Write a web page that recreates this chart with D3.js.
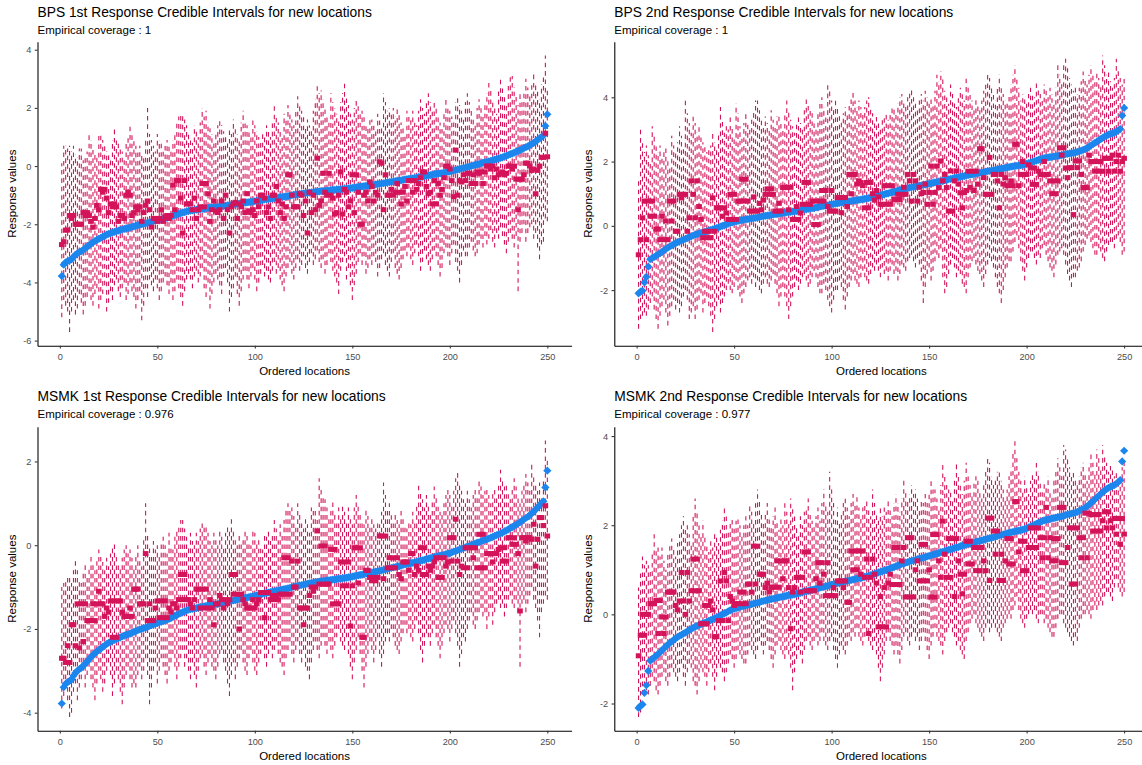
<!DOCTYPE html>
<html><head><meta charset="utf-8">
<script src="https://cdn.jsdelivr.net/npm/d3@7"></script>
<style>
body{margin:0;background:#fff;}
svg{display:block;font-family:"Liberation Sans",Arial,sans-serif;}
</style></head><body>
<svg id="chart" width="1142" height="765"></svg>
<script>
// ---------- data ----------
const panelTitles = [
  "BPS 1st Response Credible Intervals for new locations",
  "BPS 2nd Response Credible Intervals for new locations",
  "MSMK 1st Response Credible Intervals for new locations",
  "MSMK 2nd Response Credible Intervals for new locations"
];
const coverageLabels = ["Empirical coverage : 1","Empirical coverage : 1","Empirical coverage : 0.976","Empirical coverage : 0.977"];
const xTickValues = [0,50,100,150,200,250];
const yTicks1 = [-6,-4,-2,0,2,4];
const yTicks2 = [-2,0,2,4];
const yTicks3 = [-4,-2,0,2];
const yTicks4 = [-2,0,2,4];

// true values (sorted), 1st response
const truth1 = [-3.78,-3.39,-3.31,-3.27,-3.24,-3.21,-3.12,-3.05,-3.0,-2.96,
-2.93,-2.88,-2.83,-2.78,-2.72,-2.67,-2.62,-2.58,-2.54,-2.5,
-2.47,-2.43,-2.4,-2.36,-2.33,-2.31,-2.28,-2.26,-2.24,-2.22,
-2.2,-2.18,-2.16,-2.14,-2.13,-2.11,-2.09,-2.07,-2.05,-2.03,
-2.01,-2.0,-1.98,-1.97,-1.95,-1.93,-1.91,-1.89,-1.88,-1.86,
-1.84,-1.83,-1.81,-1.8,-1.78,-1.76,-1.74,-1.71,-1.69,-1.67,
-1.64,-1.62,-1.6,-1.58,-1.56,-1.54,-1.53,-1.52,-1.51,-1.5,
-1.49,-1.48,-1.47,-1.46,-1.45,-1.44,-1.43,-1.42,-1.42,-1.41,
-1.4,-1.39,-1.38,-1.37,-1.36,-1.35,-1.34,-1.33,-1.32,-1.31,
-1.3,-1.29,-1.28,-1.27,-1.26,-1.25,-1.24,-1.23,-1.22,-1.21,
-1.2,-1.19,-1.18,-1.16,-1.15,-1.14,-1.13,-1.12,-1.11,-1.1,
-1.09,-1.08,-1.07,-1.06,-1.05,-1.04,-1.03,-1.02,-1.0,-0.99,
-0.98,-0.97,-0.96,-0.95,-0.94,-0.93,-0.92,-0.91,-0.9,-0.9,
-0.89,-0.88,-0.87,-0.86,-0.86,-0.85,-0.84,-0.84,-0.83,-0.82,
-0.82,-0.81,-0.8,-0.8,-0.79,-0.78,-0.78,-0.77,-0.76,-0.75,
-0.74,-0.73,-0.72,-0.71,-0.7,-0.69,-0.68,-0.67,-0.66,-0.65,
-0.64,-0.63,-0.62,-0.61,-0.6,-0.59,-0.58,-0.56,-0.55,-0.54,
-0.53,-0.52,-0.51,-0.5,-0.49,-0.47,-0.46,-0.45,-0.44,-0.43,
-0.42,-0.41,-0.4,-0.38,-0.37,-0.36,-0.35,-0.33,-0.32,-0.31,
-0.3,-0.28,-0.27,-0.26,-0.25,-0.24,-0.23,-0.21,-0.2,-0.19,
-0.17,-0.15,-0.14,-0.12,-0.1,-0.08,-0.07,-0.05,-0.03,-0.02,
0.0,0.02,0.04,0.06,0.07,0.09,0.11,0.13,0.14,0.16,
0.18,0.2,0.22,0.24,0.26,0.28,0.3,0.33,0.35,0.38,
0.41,0.43,0.46,0.49,0.52,0.55,0.58,0.62,0.65,0.68,
0.72,0.76,0.8,0.85,0.9,0.95,1.0,1.05,1.38,1.78];

// true values (sorted), 2nd response
const truth2 = [-2.1,-2.05,-2.02,-1.76,-1.59,-1.27,-1.04,-1.0,-0.97,-0.93,
-0.89,-0.85,-0.81,-0.76,-0.72,-0.68,-0.64,-0.61,-0.57,-0.54,
-0.51,-0.48,-0.46,-0.43,-0.41,-0.38,-0.35,-0.33,-0.3,-0.28,
-0.26,-0.24,-0.22,-0.2,-0.19,-0.17,-0.15,-0.13,-0.11,-0.09,
-0.07,-0.05,-0.02,0.0,0.02,0.04,0.07,0.09,0.11,0.13,
0.14,0.15,0.17,0.18,0.19,0.2,0.21,0.22,0.23,0.24,
0.25,0.26,0.27,0.29,0.3,0.31,0.32,0.33,0.34,0.35,
0.36,0.37,0.38,0.39,0.4,0.41,0.42,0.43,0.43,0.44,
0.45,0.46,0.47,0.48,0.5,0.51,0.52,0.53,0.54,0.55,
0.56,0.57,0.58,0.6,0.61,0.62,0.63,0.64,0.66,0.67,
0.68,0.69,0.7,0.71,0.72,0.73,0.74,0.75,0.76,0.77,
0.78,0.79,0.8,0.81,0.82,0.83,0.84,0.85,0.86,0.88,
0.89,0.91,0.92,0.94,0.95,0.97,0.98,1.0,1.01,1.03,
1.05,1.06,1.08,1.1,1.11,1.13,1.14,1.16,1.17,1.19,
1.2,1.21,1.22,1.24,1.25,1.26,1.27,1.28,1.3,1.31,
1.32,1.34,1.35,1.36,1.38,1.39,1.4,1.42,1.43,1.45,
1.46,1.47,1.49,1.5,1.51,1.53,1.54,1.55,1.57,1.58,
1.59,1.6,1.61,1.63,1.64,1.65,1.66,1.67,1.69,1.7,
1.71,1.72,1.73,1.74,1.76,1.77,1.78,1.79,1.8,1.82,
1.83,1.84,1.85,1.86,1.87,1.88,1.89,1.9,1.91,1.93,
1.95,1.97,1.99,2.01,2.03,2.05,2.07,2.09,2.11,2.12,
2.13,2.14,2.15,2.16,2.17,2.18,2.19,2.2,2.21,2.23,
2.24,2.25,2.26,2.27,2.28,2.3,2.32,2.34,2.36,2.39,
2.42,2.46,2.5,2.54,2.58,2.62,2.66,2.7,2.74,2.78,
2.81,2.84,2.86,2.88,2.9,2.93,2.97,3.01,3.43,3.67];

// BPS 1st response
const bps1Lower = [-5.2,-4.6,-4.8,-5.0,-5.7,-5.0,-4.6,-5.1,-4.9,-4.4,
-4.7,-5.1,-4.8,-4.5,-4.3,-4.6,-4.8,-4.4,-4.2,-4.9,
-4.6,-4.4,-4.1,-5.0,-4.7,-4.3,-4.6,-4.1,-3.9,-4.3,
-4.5,-4.2,-4.0,-4.6,-4.4,-4.0,-4.3,-4.5,-4.9,-4.6,
-4.3,-5.3,-4.8,-4.2,-4.5,-3.9,-4.1,-4.3,-3.9,-4.2,
-4.6,-4.3,-4.0,-3.8,-4.1,-4.4,-4.0,-4.6,-4.3,-3.9,
-4.2,-4.5,-4.8,-4.3,-3.9,-3.7,-3.9,-4.2,-3.8,-3.6,
-4.0,-3.8,-3.5,-4.2,-4.5,-4.0,-4.9,-4.4,-4.0,-3.7,
-3.9,-4.1,-4.4,-3.8,-3.5,-4.0,-5.0,-4.5,-4.2,-3.8,
-4.4,-4.8,-4.3,-3.9,-3.6,-3.9,-4.2,-3.8,-3.5,-3.9,
-4.3,-4.0,-3.7,-3.4,-3.8,-3.6,-3.9,-4.0,-3.6,-3.3,
-3.7,-3.5,-3.9,-4.1,-4.3,-3.8,-3.5,-3.3,-3.7,-3.9,
-3.5,-3.2,-3.6,-3.4,-3.1,-3.5,-3.7,-3.3,-3.0,-3.4,
-3.2,-2.9,-3.3,-3.5,-3.2,-3.7,-3.4,-3.0,-3.3,-3.6,
-3.8,-4.0,-4.4,-3.6,-3.3,-3.1,-3.9,-3.5,-4.1,-4.6,
-4.1,-3.7,-3.3,-3.0,-3.4,-3.1,-3.7,-3.5,-3.2,-3.4,
-3.1,-3.3,-3.8,-3.5,-3.2,-3.0,-3.4,-3.6,-3.8,-3.3,
-3.0,-3.5,-3.7,-3.9,-3.5,-3.2,-2.9,-3.1,-2.8,-3.2,
-3.4,-3.0,-2.7,-3.1,-3.6,-3.3,-2.9,-3.2,-3.4,-3.6,
-3.2,-2.9,-3.1,-3.4,-3.8,-3.5,-3.0,-2.8,-3.1,-3.4,
-3.0,-2.7,-3.3,-3.6,-4.0,-3.4,-2.9,-3.1,-3.1,-2.8,
-2.6,-2.9,-3.1,-3.0,-2.7,-2.5,-2.8,-2.4,-2.7,-2.5,
-2.2,-2.6,-2.8,-2.3,-2.5,-2.1,-2.4,-2.7,-3.0,-2.6,
-2.3,-2.5,-2.8,-2.4,-4.3,-2.6,-2.3,-2.0,-2.6,-2.3,
-2.1,-2.0,-2.5,-2.3,-2.8,-3.2,-2.7,-2.6,-1.8,-1.9];
const bps1Upper = [0.1,0.7,0.7,0.6,0.7,0.5,0.7,0.4,0.3,0.6,
0.6,0.2,0.4,0.5,1.1,0.9,0.7,0.5,0.3,1.1,
1.1,0.9,0.7,0.5,0.4,0.3,0.9,1.3,1.0,0.8,
0.6,0.5,0.3,0.8,1.0,1.4,1.1,0.9,0.7,0.5,
0.7,0.4,0.3,1.0,2.0,1.1,0.9,0.7,0.5,1.1,
0.9,0.8,0.6,0.8,0.9,0.7,0.5,0.9,1.1,1.5,
1.7,1.8,1.8,1.6,1.4,1.2,1.0,0.8,1.4,1.2,
1.0,1.5,2.0,1.7,1.9,1.5,1.3,1.1,0.8,1.2,
1.4,1.6,1.4,1.2,1.0,0.8,1.3,1.1,1.6,1.3,
1.1,0.9,1.5,1.9,1.6,1.4,1.2,1.0,1.6,1.4,
1.2,1.0,0.8,1.2,1.0,1.4,1.2,1.0,1.5,2.1,
1.7,1.5,1.3,1.1,1.8,1.6,2.1,1.8,1.6,1.4,
1.9,2.4,2.1,1.9,1.7,1.4,1.6,1.4,1.2,1.9,
2.3,2.8,2.5,2.6,2.3,2.0,1.8,1.6,2.5,2.2,
2.0,1.8,1.6,2.2,2.5,2.9,2.4,2.1,1.8,1.6,
2.0,2.3,2.1,1.8,1.9,1.7,1.5,1.3,1.7,1.6,
1.4,1.2,1.8,1.6,1.4,2.5,2.2,1.9,2.0,1.8,
2.0,1.7,2.0,1.8,1.5,1.3,1.1,1.9,1.8,1.6,
1.9,1.6,1.4,1.9,2.3,2.0,1.8,2.2,2.5,2.2,
1.9,2.2,2.0,1.7,1.5,1.3,1.8,2.3,2.1,1.9,
1.7,1.5,2.2,2.4,2.1,1.9,1.7,2.2,2.5,2.2,
1.9,1.7,1.5,2.0,2.3,2.0,1.8,2.2,2.5,2.9,
2.6,2.3,2.0,1.8,2.6,3.0,2.7,2.4,2.1,2.8,
3.1,3.1,2.7,2.4,2.1,2.5,2.3,2.6,3.0,2.7,
2.4,2.9,3.2,2.8,2.6,2.3,2.8,3.1,3.8,2.7];
const bps1Mean = [-2.7,-2.6,-2.2,-2.2,-1.7,-1.8,-1.7,-2.0,-2.0,-2.0,
-2.0,-1.6,-1.7,-1.6,-1.7,-1.9,-2.1,-1.8,-1.35,-1.5,
-0.8,-0.9,-0.8,-1.1,-1.6,-1.3,-1.4,-1.3,-1.4,-1.9,
-1.7,-1.7,-1.8,-1.0,-0.9,-1.0,-1.7,-1.6,-1.4,-1.5,
-1.4,-1.9,-1.6,-1.35,-1.2,-1.5,-2.1,-1.8,-1.8,-1.9,
-1.8,-1.5,-1.9,-1.75,-1.7,-1.8,-1.7,-0.65,-1.5,-0.5,
-0.5,-1.1,-2.3,-0.5,-1.3,-1.3,-1.3,-1.5,-1.1,-1.8,
-1.5,-1.4,-0.6,-1.4,-0.6,-0.95,-1.9,-1.5,-1.2,-1.55,
-1.6,-1.5,-1.2,-1.8,-1.0,-1.5,-2.3,-1.4,-1.3,-1.25,
-1.8,-1.3,-1.4,-1.2,-1.6,-0.95,-1.55,-1.6,-1.5,-1.7,
-1.2,-1.4,-1.0,-1.0,-1.1,-1.6,-1.4,-1.8,-1.0,-1.0,
-0.7,-1.2,-1.6,-1.3,-1.8,-1.4,-0.3,-0.3,-1.0,-1.4,
-1.4,-1.4,-0.95,-1.0,-1.7,-1.2,-2.3,-0.9,-1.6,-1.0,
-1.5,0.27,-1.35,-1.2,-0.25,-0.9,-1.0,-0.25,-1.0,-1.1,
-1.65,-1.6,-1.0,-0.2,-1.65,-0.8,-0.9,-1.4,-1.2,-0.3,
-1.6,-0.3,-0.9,-2.0,-2.0,-1.0,-0.9,-1.2,-0.55,-0.7,
-1.2,-0.9,-1.0,0.15,0.1,-1.5,-0.3,-1.0,-1.0,-0.8,
-1.0,-0.9,-0.6,-0.9,-1.3,-0.9,-0.7,-1.2,-0.5,-0.5,
-0.9,-0.5,-0.8,-0.6,-0.4,-0.2,-0.2,-0.7,-0.95,-0.9,
-1.3,-0.5,-1.3,-0.6,-1.0,-0.8,-0.4,0.0,0.0,-0.1,
-0.5,-1.05,0.55,-1.0,-0.5,-0.55,-0.3,-0.5,-0.25,-0.25,
-0.6,-0.3,-0.6,-0.2,-0.25,-0.2,-0.6,-0.2,0.0,0.0,
-0.1,0.0,-0.4,-0.1,-0.3,-0.25,-0.2,-0.3,-0.25,0.0,
0.0,-0.1,0.0,-0.45,-1.5,-0.45,-0.45,-0.3,0.1,0.1,
0.0,-0.15,-0.1,-0.95,-0.15,0.0,0.3,0.3,1.13,0.32];

// BPS 2nd response
const bps2Lower = [-3.2,-2.9,-2.8,-2.7,-2.8,-2.6,-2.4,-2.2,-2.6,-2.9,
-3.2,-2.8,-2.5,-2.3,-2.7,-3.1,-2.8,-2.5,-2.3,-2.6,
-2.4,-2.7,-2.5,-2.2,-2.0,-2.3,-2.9,-2.7,-2.5,-2.9,
-2.6,-2.3,-2.1,-2.7,-2.4,-2.2,-2.5,-2.8,-3.3,-2.9,
-2.5,-2.3,-2.7,-2.4,-2.2,-2.0,-1.8,-2.0,-2.1,-1.9,
-1.7,-2.0,-2.2,-2.4,-2.1,-1.9,-1.7,-1.6,-1.8,-1.6,
-1.9,-1.7,-2.0,-2.1,-1.8,-1.6,-1.8,-1.9,-1.7,-1.5,
-1.8,-2.1,-2.5,-2.2,-1.9,-2.2,-2.5,-2.9,-2.5,-2.2,
-1.9,-1.7,-2.0,-1.8,-1.6,-1.5,-1.7,-1.9,-1.8,-1.6,
-1.4,-1.6,-1.9,-2.1,-2.1,-1.8,-2.0,-2.3,-2.5,-2.7,
-2.3,-2.0,-2.0,-1.7,-1.9,-2.3,-2.6,-2.2,-1.9,-1.7,
-1.5,-1.7,-1.8,-1.9,-1.6,-1.4,-1.6,-1.7,-1.8,-1.5,
-1.3,-1.4,-1.2,-1.4,-1.6,-1.3,-1.5,-1.4,-1.7,-1.4,
-1.2,-1.5,-1.4,-1.7,-1.5,-1.2,-1.3,-1.4,-1.1,-1.0,
-0.9,-1.1,-1.3,-1.0,-1.2,-1.7,-2.4,-1.9,-1.5,-1.3,
-1.7,-1.4,-1.1,-0.9,-1.0,-0.7,-1.6,-2.1,-1.9,-1.5,
-1.2,-1.0,-1.3,-1.6,-1.4,-1.5,-1.8,-1.9,-2.1,-1.6,
-1.3,-1.1,-1.0,-1.2,-1.4,-1.5,-1.7,-1.9,-1.5,-1.2,
-1.0,-1.1,-1.3,-1.6,-1.9,-2.1,-2.4,-2.0,-1.6,-1.3,
-1.1,-1.1,-0.8,-0.5,-0.3,-0.7,-1.1,-1.4,-1.7,-1.3,
-1.0,-0.8,-0.8,-1.0,-1.2,-0.9,-1.0,-0.7,-0.6,-0.9,
-1.1,-1.3,-1.4,-1.6,-1.2,-0.9,-0.8,-0.7,-0.9,-1.2,
-1.5,-1.7,-1.9,-1.6,-1.6,-1.4,-1.3,-1.1,-0.8,-0.6,
-0.4,-0.3,-0.5,-0.7,-0.9,-0.9,-0.7,-0.8,-1.0,-1.1,
-0.8,-0.6,-0.5,-0.5,-0.7,-0.4,-0.3,-0.5,-0.9,-0.8];
const bps2Upper = [1.4,3.0,2.6,2.3,2.5,2.2,2.0,3.1,2.8,2.5,
2.3,2.5,2.2,2.4,2.5,2.1,1.9,2.8,2.5,2.3,
2.6,3.1,2.8,2.5,3.9,3.5,3.2,2.9,3.5,3.2,
2.9,3.1,2.8,2.6,2.5,2.3,2.4,2.5,2.9,2.6,
2.4,2.9,3.7,3.3,2.9,3.1,3.0,3.4,3.1,2.8,
3.8,3.5,3.1,2.8,3.2,3.5,3.2,3.0,3.3,3.6,
3.9,3.9,3.6,3.3,3.1,3.4,3.2,3.0,3.6,3.3,
3.1,3.4,3.4,3.2,3.0,3.5,3.9,3.6,3.3,3.1,
2.9,3.2,3.4,3.2,3.0,3.6,4.0,3.8,3.6,3.5,
3.3,3.1,3.5,3.8,4.0,3.7,3.4,4.5,4.2,3.9,
3.7,3.9,3.7,3.5,3.3,3.5,3.7,3.5,3.8,4.0,
4.2,3.9,3.7,3.9,3.7,3.5,3.7,3.9,4.0,3.7,
3.5,3.3,3.5,3.3,3.1,3.3,3.4,3.5,3.3,3.5,
3.7,3.7,3.5,3.8,4.0,4.1,3.9,3.7,4.0,4.2,
4.3,4.0,3.8,3.7,3.9,4.1,3.9,4.2,4.0,3.8,
4.0,3.8,4.2,4.7,4.5,4.8,4.6,4.2,4.0,3.8,
4.4,4.1,3.9,3.7,4.0,4.3,4.1,3.9,4.6,4.3,
4.1,3.9,3.7,4.0,3.8,3.6,3.9,4.2,4.5,4.8,
4.6,4.3,4.1,3.9,4.3,4.7,4.4,4.1,3.9,3.8,
4.1,4.4,4.7,5.0,4.6,4.3,3.9,4.1,4.0,3.8,
4.1,4.3,4.1,4.0,4.5,4.3,4.1,3.9,4.4,4.2,
4.0,4.3,4.1,3.9,4.3,5.0,4.7,4.5,5.1,5.2,
4.9,4.6,4.4,4.2,4.4,4.1,4.3,4.5,4.8,4.6,
4.4,4.7,5.0,4.7,4.5,4.8,4.6,4.4,5.3,5.0,
4.7,4.8,4.5,4.3,4.6,5.2,4.9,4.6,4.4,4.6];
const bps2Mean = [-0.9,-0.43,0.25,0.77,-0.43,0.77,0.3,0.77,0.3,-0.1,
-0.1,-0.43,0.3,-0.43,0.15,-0.43,0.77,0.15,0.77,-0.17,
-0.17,0.98,0.87,0.98,0.98,-0.17,0.25,1.4,0.98,0.25,
1.4,0.6,0.2,-0.37,-0.17,-0.37,-0.17,-0.37,0.87,-0.17,
0.56,0.56,0.56,0.3,0.56,0.4,0.2,0.98,0.2,0.98,
0.2,0.77,0.77,1.45,0.77,1.45,0.77,0.46,0.46,0.9,
0.46,0.46,0.7,0.5,0.8,0.98,1.15,0.98,1.15,0.98,
0.46,0.46,0.7,0.46,1.19,1.2,1.19,0.5,1.2,0.2,
0.2,0.6,0.2,0.4,0.67,1.35,0.67,1.35,0.67,0.77,
0.04,0.77,0.04,0.77,1.1,0.77,1.1,0.6,0.46,1.1,
0.46,0.46,0.88,0.88,0.41,0.88,0.88,0.6,1.6,1.0,
1.6,1.6,1.3,1.4,1.35,1.25,0.56,1.35,0.56,1.35,
1.0,0.8,1.1,0.9,0.67,0.67,1.25,0.67,1.25,0.67,
1.25,0.82,0.82,0.98,0.82,0.98,1.2,0.98,1.6,1.4,
0.77,1.6,1.4,0.77,1.2,1.0,1.04,1.3,0.67,1.04,
1.86,0.67,1.04,1.86,1.19,2.02,1.4,1.6,1.19,0.46,
1.71,0.46,1.4,1.71,1.3,1.03,0.56,1.03,1.1,1.7,
1.2,1.7,1.1,1.7,1.3,2.4,2.4,1.5,0.98,0.98,
2.13,0.98,1.6,1.6,1.4,0.56,1.6,1.3,1.5,1.25,
1.25,1.4,1.25,2.54,2.54,1.25,1.6,2.0,1.6,1.6,
1.9,1.8,1.29,1.8,1.29,1.7,1.6,1.6,2.0,1.6,
1.6,1.4,1.0,1.4,1.0,1.4,2.43,2.2,2.43,1.8,
1.5,1.81,1.81,0.35,2.02,1.81,2.02,1.6,1.19,1.19,
1.19,2.2,2.0,2.0,1.7,2.0,1.7,2.0,1.7,2.1,
2.1,1.7,2.1,2.2,1.7,2.0,2.2,1.7,2.0,2.1];

// MSMK 1st response
const msmk1Lower = [-3.9,-3.6,-3.4,-3.7,-4.1,-4.0,-3.5,-3.3,-3.7,-3.4,
-3.2,-3.0,-3.4,-3.1,-2.9,-3.2,-3.4,-3.7,-3.3,-3.0,
-3.2,-3.5,-3.3,-3.0,-2.8,-3.1,-3.6,-3.3,-3.0,-3.2,
-3.5,-3.8,-3.4,-3.1,-2.9,-3.2,-3.4,-3.3,-3.4,-3.1,
-2.9,-3.2,-3.0,-2.7,-3.1,-3.8,-3.4,-3.0,-2.8,-3.3,
-3.0,-2.7,-2.9,-3.1,-3.3,-3.0,-2.8,-2.6,-2.9,-3.2,
-2.9,-2.7,-2.5,-2.9,-2.7,-3.0,-3.2,-2.8,-3.1,-3.4,
-3.0,-2.7,-2.6,-2.9,-3.1,-2.8,-2.6,-2.9,-3.0,-3.2,
-2.9,-2.6,-2.5,-2.8,-3.0,-3.3,-3.6,-3.1,-2.8,-3.2,
-2.9,-2.7,-2.5,-2.8,-3.0,-3.1,-2.7,-2.5,-2.8,-3.0,
-3.1,-2.8,-2.6,-2.4,-2.7,-2.9,-2.6,-2.4,-2.7,-2.5,
-2.3,-2.6,-2.8,-2.9,-3.1,-2.7,-2.5,-2.3,-2.6,-2.8,
-2.5,-2.3,-2.6,-2.8,-2.5,-2.9,-3.0,-3.2,-2.8,-2.5,
-2.3,-2.5,-2.7,-2.4,-2.2,-2.4,-2.6,-2.3,-2.5,-2.7,
-2.4,-2.2,-2.0,-2.3,-2.4,-2.5,-2.2,-2.6,-2.9,-3.2,
-2.8,-2.5,-2.2,-2.6,-3.0,-3.4,-2.9,-2.6,-2.3,-2.5,
-2.8,-2.5,-2.2,-2.6,-2.9,-2.6,-2.3,-2.1,-2.3,-2.0,
-2.2,-2.4,-2.5,-2.6,-2.3,-2.1,-1.9,-2.1,-2.0,-2.2,
-2.3,-2.0,-1.8,-2.1,-2.5,-2.8,-2.4,-2.1,-2.2,-2.4,
-2.1,-1.9,-2.2,-2.4,-2.7,-2.4,-2.1,-1.9,-2.0,-2.3,
-2.0,-1.8,-2.1,-2.4,-2.9,-2.6,-2.2,-2.3,-2.0,-1.8,
-1.6,-1.9,-2.0,-1.8,-1.6,-1.5,-1.7,-1.6,-2.0,-1.7,
-1.5,-1.9,-1.6,-1.4,-1.3,-1.5,-1.4,-1.7,-1.5,-1.3,
-1.2,-1.4,-1.5,-1.3,-1.6,-2.9,-1.4,-1.3,-1.6,-1.4,
-1.2,-1.0,-1.3,-1.5,-1.8,-2.2,-1.6,-1.4,-1.2,-1.3];
const msmk1Upper = [-1.0,-0.9,-0.8,-0.7,-0.7,-0.9,-0.6,-0.3,-0.6,-0.8,
-0.9,-0.6,-0.4,-0.7,-0.5,-0.2,-0.4,-0.6,-0.3,-0.1,
-0.2,-0.4,-0.6,-0.3,-0.5,-0.2,0.0,0.1,-0.2,-0.4,
-0.5,-0.3,-0.1,0.0,-0.2,-0.1,-0.3,-0.5,-0.2,0.0,
-0.3,-0.5,0.2,1.0,0.3,0.0,-0.2,0.1,-0.1,0.0,
-0.2,0.1,0.2,0.0,-0.2,0.3,0.0,-0.1,0.2,0.4,
0.5,0.6,0.6,0.4,0.2,0.0,0.3,0.1,0.0,0.3,
0.1,0.4,0.6,0.5,0.5,0.3,0.1,0.0,0.3,0.2,
0.0,0.4,0.2,0.0,0.3,0.5,0.4,0.7,0.4,0.2,
0.0,0.3,0.1,0.2,0.4,0.3,0.1,0.0,0.4,0.3,
0.1,0.2,0.0,-0.1,0.3,0.2,0.4,0.1,0.3,0.6,
0.4,0.2,0.5,0.3,0.6,0.9,1.0,0.9,0.9,0.7,
0.5,1.0,0.8,0.6,0.4,0.7,0.5,0.3,0.9,0.9,
0.9,0.6,1.6,1.4,1.2,1.1,0.9,0.7,0.9,1.1,
0.8,0.6,0.9,0.7,1.0,0.8,0.6,0.9,0.7,0.5,
0.9,1.2,1.0,0.8,0.6,0.5,0.9,0.7,0.5,0.7,
0.5,0.4,0.6,0.5,0.8,1.5,1.2,0.9,1.0,0.8,
0.6,0.8,0.6,0.5,0.9,0.7,0.5,0.4,0.6,0.5,
0.8,0.6,1.0,1.5,1.3,1.1,0.9,1.2,1.0,0.8,
1.1,1.4,1.2,1.0,0.8,0.8,1.0,1.2,1.4,1.2,
1.0,1.3,1.6,1.8,1.5,1.3,1.1,1.0,1.3,1.1,
0.9,1.2,1.4,1.2,1.6,1.4,1.2,1.3,1.4,1.2,
1.0,1.3,1.4,1.2,1.5,1.8,1.6,1.4,1.5,1.3,
1.1,1.4,1.6,1.4,1.2,1.0,1.3,1.5,1.7,1.5,
1.3,2.0,1.7,1.5,1.3,1.5,1.2,1.6,2.5,2.1];
const msmk1Mean = [-2.7,-2.7,-2.8,-2.4,-2.8,-1.9,-1.9,-2.4,-1.4,-2.45,
-1.4,-2.3,-1.4,-1.8,-1.8,-1.8,-1.4,-1.8,-1.4,-1.1,
-1.4,-1.4,-1.7,-1.5,-1.6,-1.33,-2.2,-1.33,-2.2,-1.33,
-1.33,-1.6,-1.7,-1.7,-1.7,-1.5,-1.7,-1.05,-1.05,-1.05,
-1.4,-1.4,-1.4,-0.2,-1.8,-1.4,-1.8,-1.8,-1.5,-1.33,
-1.73,-1.33,-1.73,-1.33,-1.73,-1.5,-1.6,-1.4,-1.4,-1.5,
-1.3,-0.7,-1.3,-0.7,-1.3,-1.3,-1.4,-1.5,-1.3,-1.05,
-1.05,-1.5,-1.05,-1.5,-1.05,-1.5,-1.3,-1.5,-1.9,-1.4,
-1.4,-1.2,-1.3,-1.5,-1.3,-1.4,-1.3,-0.7,-1.17,-0.7,
-1.17,-2.0,-1.17,-1.3,-1.4,-1.5,-1.5,-1.5,-1.3,-1.5,
-1.4,-1.3,-1.13,-1.13,-1.73,-1.13,-1.13,-1.3,-1.2,-1.3,
-1.2,-1.3,-1.17,-1.17,-0.3,-1.17,-0.3,-1.17,-0.38,-1.0,
-1.0,-0.38,-1.5,-1.5,-1.9,-1.5,-1.5,-1.2,-1.0,-1.1,
-1.0,0.34,-0.93,-0.02,-0.93,-0.02,-0.93,-0.93,-0.1,-1.4,
-0.1,-1.4,-1.4,-0.4,-0.97,-0.4,-0.97,-0.4,-1.93,-0.97,
-0.06,-0.06,-0.9,-0.06,-2.2,-2.2,-0.6,-0.6,-0.77,-0.85,
-0.77,-0.85,-0.77,0.22,0.22,-0.8,0.22,-0.54,-0.3,-0.54,
-0.3,-0.54,-0.3,-0.7,-0.8,-0.4,-0.4,-0.4,-0.6,-0.2,
-0.2,-0.7,-0.5,-0.6,-0.06,-0.7,-0.06,-0.7,-0.5,-0.6,
-0.5,-0.4,-0.3,-0.77,-0.3,-0.77,-0.3,-0.5,-0.4,0.18,
-0.38,0.18,0.62,-0.38,-0.7,-0.5,-0.54,-0.06,-0.54,-0.06,
-0.06,-0.3,-0.06,-0.54,0.26,-0.54,0.26,-0.54,-0.2,-0.2,
-0.2,-0.4,-0.2,-0.2,-0.1,-0.06,-0.38,-0.06,-0.38,0.18,
0.18,0.02,0.18,0.02,-0.2,-1.57,0.18,0.18,0.1,0.18,
0.18,0.14,0.5,-0.5,0.14,0.66,0.66,0.47,0.94,0.22];

// MSMK 2nd response
const msmk2Lower = [-2.3,-2.2,-1.8,-1.8,-1.7,-1.8,-1.6,-1.4,-1.5,-1.7,
-1.8,-1.6,-1.4,-1.3,-1.5,-1.6,-1.4,-1.2,-1.3,-1.4,
-1.5,-1.3,-1.1,-1.4,-1.6,-1.3,-1.1,-1.2,-1.5,-1.6,
-1.8,-1.5,-1.2,-1.3,-1.4,-1.6,-1.3,-1.1,-1.4,-1.7,
-1.4,-1.1,-1.2,-1.3,-1.5,-1.3,-1.1,-0.9,-1.0,-1.2,
-1.0,-0.8,-0.9,-1.0,-1.1,-1.1,-0.9,-0.7,-0.8,-0.9,
-1.0,-0.8,-0.6,-0.7,-0.9,-0.7,-0.6,-0.8,-1.0,-1.2,
-0.9,-0.7,-0.6,-0.8,-0.9,-1.0,-0.8,-0.9,-1.2,-1.7,
-1.3,-1.0,-0.8,-0.9,-1.1,-0.8,-0.6,-0.5,-0.7,-0.8,
-0.6,-0.5,-0.7,-0.6,-0.4,-0.6,-0.7,-0.8,-0.6,-0.5,
-0.8,-1.0,-1.2,-0.9,-0.7,-0.8,-0.9,-0.7,-0.5,-0.6,
-0.4,-0.5,-0.3,-0.5,-0.6,-0.7,-0.5,-0.4,-0.6,-0.7,
-0.8,-0.6,-0.9,-1.2,-1.5,-1.2,-0.9,-0.6,-0.4,-0.6,
-0.7,-0.9,-0.7,-0.9,-1.1,-0.8,-0.5,-0.4,-0.6,-0.7,
-0.5,-0.4,-0.6,-0.5,-0.8,-0.6,-0.4,-0.6,-0.8,-1.0,
-0.7,-0.5,-0.3,-0.5,-0.6,-0.7,-0.9,-0.6,-0.4,-0.3,
-0.2,-0.4,-0.5,-0.7,-0.6,-0.8,-0.9,-1.0,-0.6,-0.4,
-0.2,-0.1,0.0,-0.2,-0.3,-0.4,-0.5,-0.6,-0.3,-0.2,
-0.4,-0.3,-0.2,-0.3,-0.4,-0.5,-0.6,-0.3,-0.2,-0.1,
0.0,-0.1,0.1,0.2,0.4,0.1,-0.1,-0.2,-0.3,-0.1,
0.0,0.1,0.0,0.1,-0.1,-0.2,0.0,0.0,-0.2,-0.1,
-0.3,-0.4,-0.5,-0.5,-0.3,-0.1,0.0,0.0,-0.2,-0.3,
-0.4,-0.5,-0.6,-0.7,-0.5,-0.6,-0.3,-0.1,0.0,0.0,
0.1,0.0,-0.1,0.1,0.2,0.1,0.2,0.3,0.2,0.4,
0.5,0.5,0.4,0.3,0.6,0.8,0.6,0.5,0.4,0.5];
const msmk2Upper = [0.6,1.0,1.3,1.1,1.2,1.1,1.0,1.4,1.8,1.5,
1.5,1.3,1.5,1.2,1.0,1.4,1.6,1.7,1.5,1.3,
1.6,1.8,2.0,2.2,1.9,2.0,1.8,1.6,2.2,2.6,
2.3,2.0,1.8,2.1,1.8,1.6,1.4,1.7,1.5,1.8,
1.8,1.6,1.9,2.1,2.4,2.2,1.9,2.1,2.2,2.0,
2.1,2.2,2.0,1.8,2.0,2.2,2.0,2.5,2.3,2.1,
2.5,2.8,2.6,2.3,2.1,2.3,2.5,2.2,2.0,2.2,
2.4,2.1,1.9,2.2,2.0,2.5,2.3,2.1,2.6,2.4,
2.2,2.0,1.8,2.2,2.0,2.3,2.4,2.6,2.3,2.1,
2.0,2.2,2.4,2.1,2.5,2.8,2.5,2.3,3.2,2.8,
2.5,2.2,2.4,2.1,2.3,2.5,2.6,2.4,2.2,2.5,
2.7,2.5,2.7,2.4,2.2,2.4,2.5,2.6,2.4,2.2,
2.8,2.5,2.3,2.1,2.4,2.2,2.4,2.3,2.6,2.4,
2.2,2.5,2.7,2.5,2.3,2.6,3.0,2.8,2.6,2.7,
2.9,2.7,2.8,2.6,2.4,2.6,2.5,2.7,2.5,2.7,
3.0,2.8,2.8,2.6,2.4,2.9,3.4,3.1,2.9,2.8,
2.8,2.6,3.0,3.4,3.1,2.9,2.7,3.0,3.4,3.1,
2.9,2.7,3.0,3.1,3.0,2.8,2.6,2.9,3.2,3.5,
3.4,3.1,2.9,3.0,3.2,3.2,3.0,2.8,2.6,2.8,
3.1,3.3,3.6,3.9,3.5,3.2,3.0,2.8,3.1,2.9,
2.7,3.0,3.2,3.1,3.4,3.2,3.0,2.8,3.0,2.9,
3.1,2.8,2.7,3.0,3.2,3.5,3.3,3.1,3.8,3.7,
3.5,3.3,3.1,3.2,3.0,2.9,3.1,3.3,3.4,3.2,
3.0,3.3,3.6,3.4,3.2,3.7,3.5,3.3,3.8,3.6,
3.4,3.2,3.4,3.3,3.1,3.2,3.0,3.1,3.3,3.4];
const msmk2Mean = [-0.93,-0.47,0.0,-0.47,0.0,0.0,0.24,0.24,0.24,0.31,
-0.43,0.31,-0.06,-0.43,-0.06,0.5,0.5,0.5,0.5,0.2,
0.1,0.3,0.94,0.3,0.0,0.94,0.3,0.53,1.24,0.53,
1.24,0.53,-0.21,-0.21,0.2,-0.21,0.2,0.3,0.1,-0.5,
-0.5,-0.14,0.75,-0.14,0.94,0.75,-0.14,0.4,0.3,0.2,
0.24,0.24,0.5,0.24,0.5,0.24,0.68,0.68,0.5,1.53,
0.68,1.53,0.9,0.9,0.9,0.6,0.7,0.5,0.61,0.61,
0.61,1.2,0.61,1.2,0.8,1.2,1.2,0.6,-0.32,0.5,
0.6,0.83,0.83,0.5,0.83,1.4,0.53,1.4,0.53,0.53,
0.53,0.8,1.16,0.7,1.16,0.9,0.42,1.16,0.42,0.42,
0.6,0.42,0.75,0.75,0.75,0.6,0.75,0.27,0.27,1.42,
1.0,1.42,1.0,1.42,0.9,1.42,0.83,1.24,-0.43,0.83,
1.24,0.9,0.7,-0.28,0.4,-0.28,0.6,-0.28,0.7,0.9,
0.67,1.5,0.67,1.5,0.67,1.2,1.5,0.39,1.72,0.39,
1.72,0.39,1.0,1.2,0.75,1.57,0.75,1.57,0.75,1.0,
0.39,1.79,0.39,1.79,1.2,0.83,2.09,1.35,0.83,1.7,
0.83,1.7,0.4,1.7,1.2,0.9,0.46,0.9,1.64,1.13,
1.64,1.13,1.5,0.98,1.5,0.98,1.5,1.2,0.98,2.16,
0.76,2.16,1.87,1.35,1.87,0.76,1.35,0.76,1.2,1.7,
1.13,1.7,1.13,2.53,2.53,1.4,1.64,0.98,1.64,0.98,
1.5,1.94,1.5,1.94,1.5,1.94,1.72,1.27,1.72,2.4,
1.27,1.72,1.2,1.7,1.2,1.7,2.4,1.16,2.4,1.16,
1.5,1.94,0.68,1.94,0.68,1.94,1.72,1.27,1.72,2.27,
1.27,2.27,2.24,1.87,2.24,1.87,2.24,1.87,2.1,2.3,
1.94,2.3,2.1,1.94,2.15,1.8,2.15,1.57,2.15,1.8];

// ---------- layout / style ----------
const W = 1142, H = 765;
const crimson = "#D4145A", blue = "#1C86EE";
const svg = d3.select("#chart");
svg.append("rect").attr("width", W).attr("height", H).attr("fill", "#fff");
const defs = svg.append("defs");

const panels = [
  {title: panelTitles[0], sub: coverageLabels[0], lower: bps1Lower, upper: bps1Upper, mean: bps1Mean, truth: truth1, yTicks: yTicks1,
   left: 37.5, right: 571.6, top: 41.7, bottom: 345.7, titleY: 16.6, subY: 34},
  {title: panelTitles[1], sub: coverageLabels[1], lower: bps2Lower, upper: bps2Upper, mean: bps2Mean, truth: truth2, yTicks: yTicks2,
   left: 614.3, right: 1148.4, top: 41.7, bottom: 345.7, titleY: 16.6, subY: 34},
  {title: panelTitles[2], sub: coverageLabels[2], lower: msmk1Lower, upper: msmk1Upper, mean: msmk1Mean, truth: truth1, yTicks: yTicks3,
   left: 37.5, right: 571.6, top: 426.7, bottom: 730.7, titleY: 400.6, subY: 418},
  {title: panelTitles[3], sub: coverageLabels[3], lower: msmk2Lower, upper: msmk2Upper, mean: msmk2Mean, truth: truth2, yTicks: yTicks4,
   left: 614.3, right: 1148.4, top: 426.7, bottom: 730.7, titleY: 400.6, subY: 418}
];

panels.forEach((p, pi) => {
  const n = p.lower.length;
  const rows = d3.range(n).map(i => ({loc: i + 1, lower: p.lower[i], upper: p.upper[i], mean: p.mean[i], truth: p.truth[i]}));
  const xSpan = n - 1;
  const x = d3.scaleLinear().domain([1 - 0.05 * xSpan, n + 0.05 * xSpan]).range([p.left, p.right]);
  const lo = Math.min(d3.min(p.lower), d3.min(p.truth), d3.min(p.mean));
  const hi = Math.max(d3.max(p.upper), d3.max(p.truth), d3.max(p.mean));
  const pad = 0.05 * (hi - lo);
  const y = d3.scaleLinear().domain([lo - pad, hi + pad]).range([p.bottom, p.top]);

  const clipId = "clip" + pi;
  defs.append("clipPath").attr("id", clipId).append("rect")
    .attr("x", p.left).attr("y", p.top).attr("width", p.right - p.left).attr("height", p.bottom - p.top);

  const g = svg.append("g");
  const plot = g.append("g").attr("clip-path", `url(#${clipId})`);

  // credible intervals (dashed, drawn from lower to upper)
  plot.append("g").selectAll("line").data(rows).join("line")
    .attr("x1", d => x(d.loc)).attr("x2", d => x(d.loc))
    .attr("y1", d => y(d.lower)).attr("y2", d => y(d.upper))
    .attr("stroke", crimson).attr("stroke-width", 1.1)
    .attr("stroke-dasharray", "4.6,3.8");

  // true values (blue diamonds)
  const r = 4.1;
  plot.append("g").selectAll("path").data(rows).join("path")
    .attr("d", d => `M${x(d.loc)},${y(d.truth) - r}L${x(d.loc) + r},${y(d.truth)}L${x(d.loc)},${y(d.truth) + r}L${x(d.loc) - r},${y(d.truth)}Z`)
    .attr("fill", blue);

  // posterior means (crimson squares)
  plot.append("g").selectAll("rect").data(rows).join("rect")
    .attr("x", d => x(d.loc) - 2.8).attr("y", d => y(d.mean) - 2.5)
    .attr("width", 5.6).attr("height", 5)
    .attr("fill", crimson);

  // axes
  const xAxis = d3.axisBottom(x).tickValues(xTickValues).tickSize(2.75).tickSizeOuter(0).tickPadding(5.4)
    .tickFormat(d => String(d));
  const gx = g.append("g").attr("transform", `translate(0,${p.bottom})`).call(xAxis);
  const yAxis = d3.axisLeft(y).tickValues(p.yTicks).tickSize(2.75).tickSizeOuter(0).tickPadding(3.4)
    .tickFormat(d => String(d));
  const gy = g.append("g").attr("transform", `translate(${p.left},0)`).call(yAxis);
  [gx, gy].forEach(ax => {
    ax.select(".domain").attr("stroke", "#000").attr("stroke-width", 1.07);
    ax.selectAll(".tick line").attr("stroke", "#333").attr("stroke-width", 1.07);
    ax.selectAll(".tick text").attr("fill", "#4D4D4D").style("font-size", "9.2px")
      .style("font-family", '"Liberation Sans", Arial, sans-serif');
  });

  // titles
  g.append("text").attr("x", p.left).attr("y", p.titleY).text(p.title)
    .attr("font-size", 13.8).attr("fill", "#000");
  g.append("text").attr("x", p.left).attr("y", p.subY).text(p.sub)
    .attr("font-size", 11.5).attr("fill", "#000");
  g.append("text").attr("x", (p.left + p.right) / 2).attr("y", p.bottom + 28.8)
    .attr("text-anchor", "middle").attr("font-size", 11.5).attr("fill", "#000").text("Ordered locations");
  g.append("text").attr("transform", `translate(${p.left - 22},${(p.top + p.bottom) / 2}) rotate(-90)`)
    .attr("text-anchor", "middle").attr("font-size", 11.5).attr("fill", "#000").text("Response values");
});
</script>
</body></html>
